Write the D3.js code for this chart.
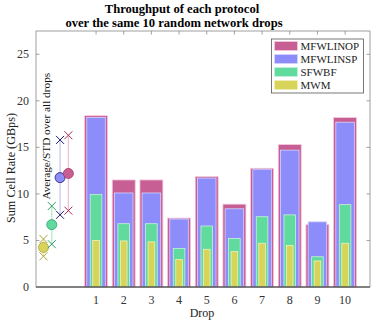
<!DOCTYPE html>
<html>
<head>
<meta charset="utf-8">
<script src="https://cdn.jsdelivr.net/npm/d3@7"></script>
<style>
  body { margin: 0; background: #fff; }
</style>
</head>
<body>
<div id="chart"></div>
<script>
// chart values
const drops = [1, 2, 3, 4, 5, 6, 7, 8, 9, 10];
const protocols = ["MFWLINOP", "MFWLINSP", "SFWBF", "MWM"];
const mfwlinop = [18.4, 11.5, 11.5, 7.4, 11.85, 8.9, 12.75, 15.3, 6.7, 18.2];
const mfwlinsp = [18.2, 10.1, 10.1, 7.3, 11.7, 8.4, 12.65, 14.7, 7.0, 17.7];
const sfwbf = [9.95, 6.8, 6.8, 4.15, 6.55, 5.2, 7.55, 7.75, 3.25, 8.85];
const mwm = [5.0, 4.95, 4.85, 2.95, 4.05, 3.8, 4.7, 4.45, 2.8, 4.7];
// average / std markers (MWM, SFWBF, MFWLINSP, MFWLINOP)
const avgX = [-0.9, -0.6, -0.3, 0.0];
const avgMean = [4.25, 6.7, 11.75, 12.2];
const avgHigh = [5.15, 8.7, 15.8, 16.3];
const avgLow = [3.3, 4.6, 7.75, 8.2];
const yTicks = [0, 5, 10, 15, 20, 25];

const W = 374, H = 321;
const MARGIN = { left: 36, right: 4, top: 31, bottom: 34 };
const FONT = "'Liberation Serif', 'Times New Roman', Times, 'DejaVu Serif', serif";
const colors = ["#c85f94", "#8c8cfa", "#61db9d", "#d8d45a"];
const edges = ["#f3c8dc", "#d4d4ff", "#c4f3da", "#f1efbf"];
const widths = [0.83, 0.67, 0.42, 0.24];
const markerEdge = ["#a8a23a", "#2e9e64", "#1c1c6e", "#a8305f"];
const lineCol = ["#ece9a6", "#a8ecc6", "#c4c4f4", "#ecc0d4"];
const fillCol = ["#d8d45a", "#61db9d", "#8c8cfa", "#c85f94"];

const svg = d3.select("#chart").append("svg")
  .attr("width", W).attr("height", H)
  .attr("font-family", FONT)
  .style("font-family", FONT);

const x = d3.scaleLinear().domain([-1.17, 10.9]).range([MARGIN.left, W - MARGIN.right]);
const y = d3.scaleLinear().domain([0, 27.5]).range([H - MARGIN.bottom, MARGIN.top]);

// bars, widest first so narrower ones sit on top
const series = [mfwlinop, mfwlinsp, sfwbf, mwm];
series.forEach((vals, k) => {
  svg.append("g")
    .selectAll("rect")
    .data(drops)
    .enter()
    .append("rect")
    .attr("x", (d) => x(d - widths[k] / 2))
    .attr("width", (d) => x(widths[k]) - x(0))
    .attr("y", (d, i) => y(vals[i]))
    .attr("height", (d, i) => y(0) - y(vals[i]))
    .attr("fill", colors[k])
    .attr("stroke", edges[k])
    .attr("stroke-width", 0.8);
});

// average / std markers
const gAvg = svg.append("g");
avgX.forEach((ax, i) => {
  gAvg.append("line")
    .attr("x1", x(ax)).attr("x2", x(ax))
    .attr("y1", y(avgLow[i])).attr("y2", y(avgHigh[i]))
    .attr("stroke", lineCol[i]).attr("stroke-width", 1.2);
  [avgHigh[i], avgLow[i]].forEach((v) => {
    const cx = x(ax), cy = y(v), s = 4;
    gAvg.append("path")
      .attr("d", `M${cx - s},${cy - s}L${cx + s},${cy + s}M${cx - s},${cy + s}L${cx + s},${cy - s}`)
      .attr("stroke", markerEdge[i]).attr("stroke-width", 1);
  });
  gAvg.append("circle")
    .attr("cx", x(ax)).attr("cy", y(avgMean[i]))
    .attr("r", 5)
    .attr("fill", fillCol[i])
    .attr("stroke", markerEdge[i]).attr("stroke-width", 0.8);
});

gAvg.append("text")
  .attr("transform", `translate(${x(-0.68)},${y(16.2)}) rotate(-90)`)
  .attr("text-anchor", "middle")
  .attr("font-size", 11.3)
  .attr("fill", "#111")
  .text("Average/STD over all drops");

// axes box
const axisCol = "#888";
const x0 = MARGIN.left, x1 = W - MARGIN.right, y0 = H - MARGIN.bottom, y1 = MARGIN.top;
svg.append("rect")
  .attr("x", x0).attr("y", y1).attr("width", x1 - x0).attr("height", y0 - y1)
  .attr("fill", "none").attr("stroke", axisCol).attr("stroke-width", 0.8);
svg.append("line").attr("x1", x0).attr("x2", x1).attr("y1", y0).attr("y2", y0)
  .attr("stroke", "#333").attr("stroke-width", 1);

// ticks
const tickLen = 3.5;
const gTicks = svg.append("g").attr("stroke", axisCol).attr("stroke-width", 0.8);
yTicks.forEach((t) => {
  gTicks.append("line").attr("x1", x0).attr("x2", x0 + tickLen).attr("y1", y(t)).attr("y2", y(t));
  gTicks.append("line").attr("x1", x1).attr("x2", x1 - tickLen).attr("y1", y(t)).attr("y2", y(t));
});
drops.forEach((d) => {
  gTicks.append("line").attr("x1", x(d)).attr("x2", x(d)).attr("y1", y1).attr("y2", y1 + tickLen);
});

// tick labels
svg.append("g")
  .selectAll("text")
  .data(yTicks)
  .enter()
  .append("text")
  .attr("x", x0 - 7)
  .attr("y", (d) => y(d) + 4)
  .attr("text-anchor", "end")
  .attr("font-size", 12)
  .attr("fill", "#333")
  .text((d) => d);

svg.append("g")
  .selectAll("text")
  .data(drops)
  .enter()
  .append("text")
  .attr("x", (d) => x(d))
  .attr("y", y0 + 16.5)
  .attr("text-anchor", "middle")
  .attr("font-size", 12)
  .attr("fill", "#333")
  .text((d) => d);

// axis labels
svg.append("text")
  .attr("x", 202).attr("y", 317)
  .attr("text-anchor", "middle")
  .attr("font-size", 12)
  .attr("fill", "#222")
  .text("Drop");

svg.append("text")
  .attr("transform", `translate(15,168) rotate(-90)`)
  .attr("text-anchor", "middle")
  .attr("font-size", 12.2)
  .attr("fill", "#222")
  .text("Sum Cell Rate (GBps)");

// title
svg.append("text")
  .attr("x", 182).attr("y", 12.5)
  .attr("text-anchor", "middle")
  .attr("font-size", 12.6)
  .attr("font-weight", "bold")
  .text("Throughput of each protocol");
svg.append("text")
  .attr("x", 174).attr("y", 26.5)
  .attr("text-anchor", "middle")
  .attr("font-size", 12.6)
  .attr("font-weight", "bold")
  .text("over the same 10 random network drops");

// legend
const legend = svg.append("g");
legend.append("rect")
  .attr("x", 271.5).attr("y", 39).attr("width", 92).attr("height", 54)
  .attr("fill", "#fff").attr("stroke", "#555").attr("stroke-width", 0.8);
protocols.forEach((p, i) => {
  const ry = 46 + i * 13;
  legend.append("rect")
    .attr("x", 274.5).attr("y", ry - 4.5).attr("width", 23).attr("height", 9)
    .attr("fill", colors[i]).attr("stroke", edges[i]).attr("stroke-width", 0.8);
  legend.append("text")
    .attr("x", 300.5).attr("y", ry + 4)
    .attr("font-size", 11)
    .attr("fill", "#222")
    .text(p);
});
</script>
</body>
</html>
